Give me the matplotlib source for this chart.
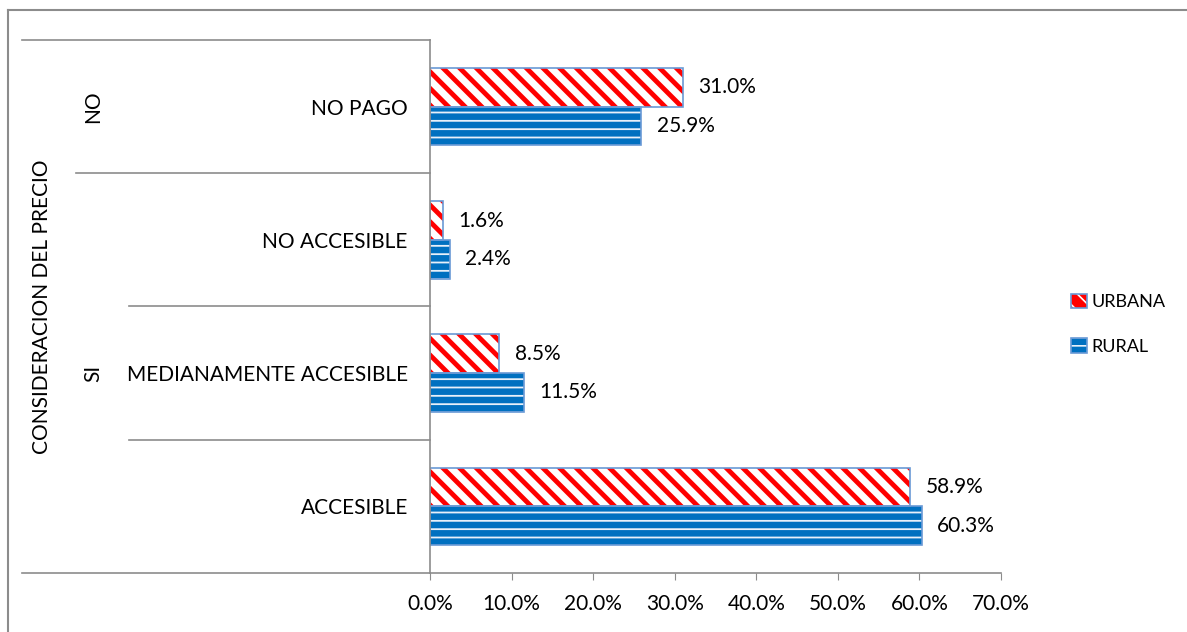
import matplotlib
matplotlib.use('Agg')
import matplotlib.pyplot as plt
from matplotlib.lines import Line2D
from matplotlib.patches import Patch
import matplotlib.transforms as mtransforms

# Categories, bottom to top
categories = ['ACCESIBLE', 'MEDIANAMENTE ACCESIBLE', 'NO ACCESIBLE', 'NO PAGO']
urbana = [58.9, 8.5, 1.6, 31.0]
rural = [60.3, 11.5, 2.4, 25.9]
x_ticks = [0, 10, 20, 30, 40, 50, 60, 70]

red = '#FF0000'
blue = '#0070C0'
edge = '#6A9AD6'
stripe = '#E8F0FA'
gray = '#8C8C8C'
fs = 15

plt.rcParams['font.family'] = ['Lato', 'DejaVu Sans']

fig = plt.figure(figsize=(11.87, 6.32), dpi=100)
ax = fig.add_axes([0.3623, 0.0934, 0.481, 0.8433])

pos = list(range(len(categories)))
h = 0.29

# URBANA: red with white diagonal stripes
plt.rcParams['hatch.linewidth'] = 5.0
ax.barh([p + h / 2 for p in pos], urbana, height=h, color=red,
        edgecolor='white', hatch='\\\\', linewidth=0)
# RURAL: blue with thin white horizontal lines
plt.rcParams['hatch.linewidth'] = 1.3
ax.barh([p - h / 2 for p in pos], rural, height=h, color=blue,
        edgecolor=stripe, hatch='--', linewidth=0)
# outlines
ax.barh([p + h / 2 for p in pos], urbana, height=h, fill=False,
        edgecolor=edge, linewidth=1.2)
ax.barh([p - h / 2 for p in pos], rural, height=h, fill=False,
        edgecolor=edge, linewidth=1.2)

# value labels
for p, u, r in zip(pos, urbana, rural):
    ax.annotate(f'{u:.1f}%', (u, p + h / 2), xytext=(11, 0),
                textcoords='offset points', va='center', ha='left', fontsize=fs)
    ax.annotate(f'{r:.1f}%', (r, p - h / 2), xytext=(11, 0),
                textcoords='offset points', va='center', ha='left', fontsize=fs)

ax.set_xlim(0, 70)
ax.set_ylim(-0.5, 3.5)
ax.set_xticks(x_ticks)
ax.set_xticklabels([f'{t:.1f}%' for t in x_ticks], fontsize=fs)
ax.tick_params(axis='x', length=5, color=gray, pad=10)
ax.set_yticks(pos)
ax.set_yticklabels(categories, fontsize=fs)
ax.tick_params(axis='y', length=0, pad=16)

for s in ['top', 'right']:
    ax.spines[s].set_visible(False)
for s in ['left', 'bottom']:
    ax.spines[s].set_color(gray)
    ax.spines[s].set_linewidth(1.2)

# group separators reaching into the label area
tr = mtransforms.blended_transform_factory(ax.transAxes, ax.transData)
for y, x0 in [(-0.5, -0.7145), (0.5, -0.527), (1.5, -0.527), (2.5, -0.62), (3.5, -0.7145)]:
    ax.add_line(Line2D([x0, 0], [y, y], transform=tr, color=gray,
                       linewidth=1.2, clip_on=False))

# outer group labels
ax.text(-0.59, 3.0, 'NO', transform=tr, rotation=90, ha='center',
        va='center', fontsize=fs)
ax.text(-0.59, 1.0, 'SI', transform=tr, rotation=90, ha='center',
        va='center', fontsize=fs)
ax.text(-0.68, 1.5, 'CONSIDERACION DEL PRECIO', transform=tr, rotation=90,
        ha='center', va='center', fontsize=fs)

# legend: hatched swatch with a thin blue outline on top
plt.rcParams['hatch.linewidth'] = 2.5
urb_fill = Patch(facecolor=red, edgecolor='white', hatch='\\\\', linewidth=0)
plt.rcParams['hatch.linewidth'] = 1.2
rur_fill = Patch(facecolor=blue, edgecolor=stripe, hatch='--', linewidth=0)
frame = Patch(facecolor='none', edgecolor=edge, linewidth=1.2)
fig.legend([(urb_fill, frame), (rur_fill, frame)], ['URBANA', 'RURAL'],
           loc='center left', bbox_to_anchor=(0.889, 0.487), frameon=False,
           fontsize=13, handlelength=0.85, handleheight=0.85,
           handletextpad=0.25, labelspacing=1.55)

# chart border
fig.add_artist(Line2D([8 / 1187, 8 / 1187], [0, 1 - 10 / 632],
                      transform=fig.transFigure, color=gray, linewidth=1.5))
fig.add_artist(Line2D([8 / 1187, 1], [1 - 10 / 632, 1 - 10 / 632],
                      transform=fig.transFigure, color=gray, linewidth=1.5))

fig.savefig('out.png', dpi=100)
